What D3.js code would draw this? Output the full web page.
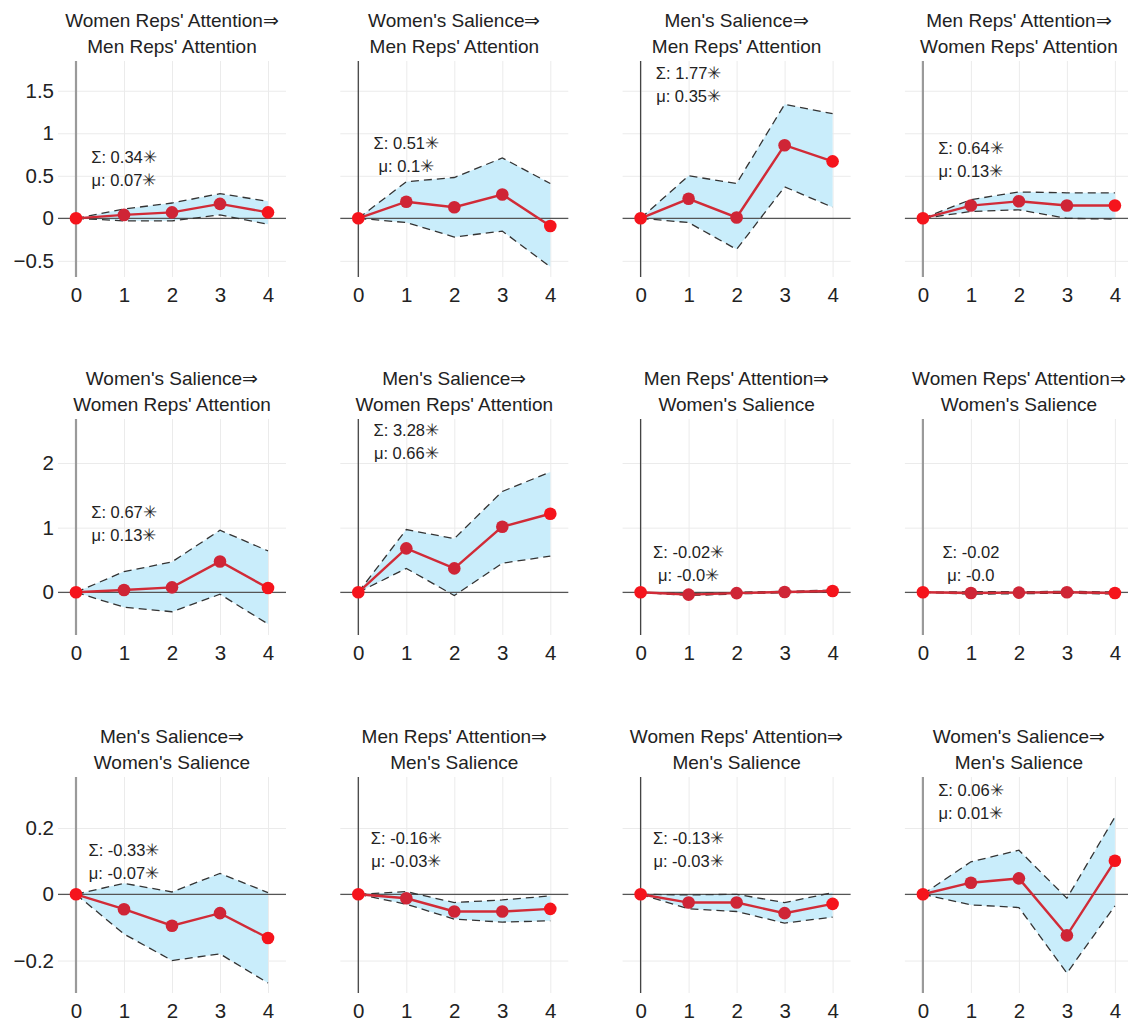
<!DOCTYPE html>
<html>
<head>
<meta charset="utf-8">
<script src="https://cdn.jsdelivr.net/npm/d3@7"></script>
<style>
  body { margin: 0; background: #fff; }
  text { font-family: "Liberation Sans", Arial, sans-serif; fill: #222; }
</style>
</head>
<body>
<div id="chart"></div>
<script>
// data
const lags = [0, 1, 2, 3, 4]

const titles = [
  ["Women Reps' Attention\u21D2", "Men Reps' Attention"],
  ["Women's Salience\u21D2", "Men Reps' Attention"],
  ["Men's Salience\u21D2", "Men Reps' Attention"],
  ["Men Reps' Attention\u21D2", "Women Reps' Attention"],
  ["Women's Salience\u21D2", "Women Reps' Attention"],
  ["Men's Salience\u21D2", "Women Reps' Attention"],
  ["Men Reps' Attention\u21D2", "Women's Salience"],
  ["Women Reps' Attention\u21D2", "Women's Salience"],
  ["Men's Salience\u21D2", "Women's Salience"],
  ["Men Reps' Attention\u21D2", "Men's Salience"],
  ["Women Reps' Attention\u21D2", "Men's Salience"],
  ["Women's Salience\u21D2", "Men's Salience"]
]

const irf = [
  [0, 0.04, 0.07, 0.17, 0.07],
  [0, 0.195, 0.13, 0.28, -0.09],
  [0, 0.23, 0.01, 0.86, 0.67],
  [0, 0.15, 0.2, 0.15, 0.15],
  [0, 0.035, 0.077, 0.477, 0.066],
  [0, 0.68, 0.37, 1.015, 1.215],
  [0, -0.035, -0.012, 0.005, 0.02],
  [0, -0.01, -0.005, 0.0, -0.01],
  [0, -0.045, -0.095, -0.057, -0.132],
  [0, -0.012, -0.052, -0.052, -0.044],
  [0, -0.025, -0.025, -0.057, -0.029],
  [0, 0.035, 0.048, -0.124, 0.101]
]

const upper = [
  [0, 0.11, 0.18, 0.29, 0.2],
  [0, 0.43, 0.48, 0.71, 0.41],
  [0, 0.5, 0.41, 1.34, 1.23],
  [0, 0.22, 0.31, 0.3, 0.3],
  [0, 0.32, 0.47, 0.96, 0.64],
  [0, 0.97, 0.83, 1.56, 1.86],
  [0, -0.02, 0.0, 0.015, 0.035],
  [0, 0.01, 0.01, 0.015, 0.005],
  [0, 0.033, 0.007, 0.063, 0.005],
  [0, 0.008, -0.025, -0.017, -0.005],
  [0, -0.002, 0.0, -0.025, 0.005],
  [0, 0.098, 0.133, -0.012, 0.233]
]

const lower = [
  [0, -0.03, -0.03, 0.04, -0.07],
  [0, -0.05, -0.22, -0.15, -0.57],
  [0, -0.05, -0.365, 0.37, 0.13],
  [0, 0.08, 0.1, 0.0, -0.01],
  [0, -0.23, -0.3, -0.03, -0.49],
  [0, 0.37, -0.05, 0.45, 0.56],
  [0, -0.05, -0.025, -0.005, 0.005],
  [0, -0.03, -0.02, -0.015, -0.025],
  [0, -0.12, -0.2, -0.18, -0.268],
  [0, -0.03, -0.075, -0.084, -0.08],
  [0, -0.044, -0.052, -0.087, -0.069],
  [0, -0.032, -0.04, -0.238, -0.035]
]

const sumLabels = ["\u03A3: 0.34\u2733", "\u03A3: 0.51\u2733", "\u03A3: 1.77\u2733", "\u03A3: 0.64\u2733",
  "\u03A3: 0.67\u2733", "\u03A3: 3.28\u2733", "\u03A3: -0.02\u2733", "\u03A3: -0.02",
  "\u03A3: -0.33\u2733", "\u03A3: -0.16\u2733", "\u03A3: -0.13\u2733", "\u03A3: 0.06\u2733"]
const meanLabels = ["\u03BC: 0.07\u2733", "\u03BC: 0.1\u2733", "\u03BC: 0.35\u2733", "\u03BC: 0.13\u2733",
  "\u03BC: 0.13\u2733", "\u03BC: 0.66\u2733", "\u03BC: -0.0\u2733", "\u03BC: -0.0",
  "\u03BC: -0.07\u2733", "\u03BC: -0.03\u2733", "\u03BC: -0.03\u2733", "\u03BC: 0.01\u2733"]
// annotation anchor, in data units
const noteY = [0.59, 0.745, 1.57, 0.69, 1.06, 2.33, 0.45, 0.45, 0.1, 0.135, 0.135, 0.28]

const rowDomains = [[-0.69, 1.85], [-0.66, 2.68], [-0.298, 0.354]]
const rowTicks = [[-0.5, 0, 0.5, 1, 1.5], [0, 1, 2], [-0.2, 0, 0.2]]

// layout
const WIDTH = 1128, HEIGHT = 1021
const PW = 228, PH = 216
const colLeft = c => 58 + c * 282.3
const rowTop = r => 61 + r * 358

const svg = d3.select("#chart").append("svg")
  .attr("width", WIDTH)
  .attr("height", HEIGHT)

const x = d3.scaleLinear().domain([-0.375, 4.375]).range([0, PW])

titles.forEach((title, i) => {
  const r = Math.floor(i / 4), c = i % 4
  const y = d3.scaleLinear().domain(rowDomains[r]).range([PH, 0])
  const g = svg.append("g")
    .attr("transform", `translate(${colLeft(c)}, ${rowTop(r)})`)

  // horizontal grid (+ y labels on first column)
  const yAxis = g.append("g")
    .call(d3.axisLeft(y).tickValues(rowTicks[r]).tickSize(-PW).tickPadding(4)
      .tickFormat(d3.format("")))
  yAxis.select(".domain").remove()
  yAxis.selectAll("line").attr("stroke", "#ebebeb").attr("stroke-width", 1)
  yAxis.selectAll("text")
    .attr("font-size", "20.5px")
    .style("font-family", "'Liberation Sans', Arial, sans-serif")
    .attr("fill", "#222")
    .attr("opacity", c === 0 ? 1 : 0)

  // vertical grid + x labels
  const xAxis = g.append("g")
    .attr("transform", `translate(0, ${PH})`)
    .call(d3.axisBottom(x).tickValues(lags).tickSize(-PH).tickPadding(10)
      .tickFormat(d3.format("d")))
  xAxis.select(".domain").remove()
  xAxis.selectAll("line").attr("stroke", "#ebebeb").attr("stroke-width", 1)
  xAxis.selectAll("text")
    .attr("font-size", "20.5px")
    .style("font-family", "'Liberation Sans', Arial, sans-serif")
    .attr("fill", "#222")

  // confidence band
  const band = d3.area()
    .x((d, k) => x(lags[k]))
    .y0((d, k) => y(lower[i][k]))
    .y1((d, k) => y(upper[i][k]))
  g.append("path")
    .datum(lags)
    .attr("d", band)
    .attr("fill", "#c9edfb")

  // zero lines
  g.append("line")
    .attr("x1", 0).attr("x2", PW)
    .attr("y1", y(0)).attr("y2", y(0))
    .attr("stroke", "#555").attr("stroke-width", 1.2)
  const outer = (c === 0 || c === 3)
  g.append("line")
    .attr("x1", x(0)).attr("x2", x(0))
    .attr("y1", 0).attr("y2", PH)
    .attr("stroke", outer ? "#9a9a9a" : "#444")
    .attr("stroke-width", outer ? 2.2 : 1.3)

  // dashed bounds
  const line = vals => d3.line().x((d, k) => x(lags[k])).y((d, k) => y(vals[k]))(lags)
  ;[upper[i], lower[i]].forEach(vals => {
    g.append("path")
      .attr("d", line(vals))
      .attr("fill", "none")
      .attr("stroke", "#333")
      .attr("stroke-width", 1.3)
      .attr("stroke-dasharray", "8,5")
  })

  // response line + markers
  g.append("path")
    .attr("d", line(irf[i]))
    .attr("fill", "none")
    .attr("stroke", "#d12b37")
    .attr("stroke-width", 2.4)
  g.selectAll("circle.pt")
    .data(irf[i])
    .enter().append("circle")
    .attr("class", "pt")
    .attr("cx", (d, k) => x(lags[k]))
    .attr("cy", d => y(d))
    .attr("r", 6.3)
    .attr("fill", (d, k) => (k === 0 || k === lags.length - 1) ? "#f5141c" : "#cf2536")

  // annotation
  const ny = y(noteY[i])
  g.append("text")
    .attr("x", x(1)).attr("y", ny - 11.5)
    .attr("text-anchor", "middle")
    .attr("dominant-baseline", "central")
    .attr("font-size", "16.5px")
    .text(sumLabels[i])
  g.append("text")
    .attr("x", x(1)).attr("y", ny + 11.5)
    .attr("text-anchor", "middle")
    .attr("dominant-baseline", "central")
    .attr("font-size", "16.5px")
    .text(meanLabels[i])

  // title
  title.forEach((t, k) => {
    g.append("text")
      .attr("x", PW / 2)
      .attr("y", -40.5 + k * 25.5)
      .attr("text-anchor", "middle")
      .attr("dominant-baseline", "central")
      .attr("font-size", "19px")
      .text(t)
  })
})
</script>
</body>
</html>
